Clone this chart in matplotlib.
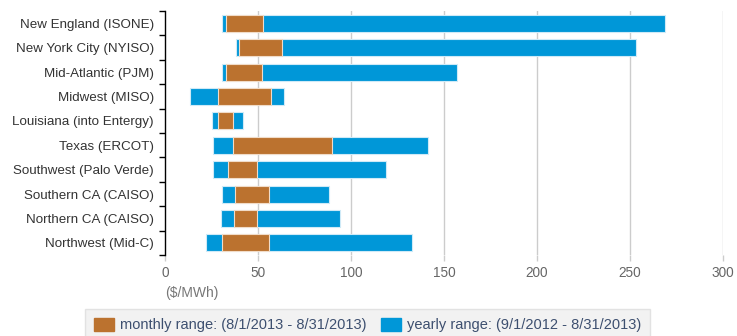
import matplotlib.pyplot as plt
import matplotlib.patches as mpatches
import numpy as np

plt.rcParams['font.family'] = ['Liberation Sans', 'DejaVu Sans']

# hub names, top to bottom
hubs = ["New England (ISONE)", "New York City (NYISO)", "Mid-Atlantic (PJM)",
        "Midwest (MISO)", "Louisiana (into Entergy)", "Texas (ERCOT)",
        "Southwest (Palo Verde)", "Southern CA (CAISO)", "Northern CA (CAISO)",
        "Northwest (Mid-C)"]

# yearly range ($/MWh), 9/1/2012 - 8/31/2013
year_lo = [30.5, 38, 30.5, 13.5, 25.5, 26, 26, 30.5, 30, 22]
year_hi = [269, 253, 157, 64, 42, 141.5, 119, 88, 94, 133]

# monthly range ($/MWh), 8/1/2013 - 8/31/2013
month_lo = [33, 40, 33, 28.5, 28.5, 36.5, 34, 37.5, 37, 30.5]
month_hi = [52.5, 63, 52, 57, 36.5, 90, 49.5, 56, 49.5, 56]

blue = "#0097d8"
brown = "#bb722f"

fig = plt.figure(figsize=(7.37, 3.36), dpi=100)
ax = fig.add_axes([0.2239, 0.241, 0.757, 0.726])

y = np.arange(len(hubs))
yw = np.array(year_hi) - np.array(year_lo)
mw = np.array(month_hi) - np.array(month_lo)
ax.barh(y, yw, left=year_lo, height=0.7, color=blue,
        edgecolor="#cfeaf7", linewidth=0.8, zorder=3)
ax.barh(y, mw, left=month_lo, height=0.7, color=brown,
        edgecolor="#f1dcc8", linewidth=0.8, zorder=4)

ax.set_xlim(0, 300)
ax.set_ylim(len(hubs) - 0.5, -0.5)

ax.set_yticks(y)
ax.set_yticklabels(hubs, fontsize=9.6, color="#333333")
ax.tick_params(axis="y", which="major", length=0, pad=8)
ax.set_yticks(np.arange(-0.5, len(hubs)), minor=True)
ax.tick_params(axis="y", which="minor", length=4, width=1, color="black")

ticks = [0, 50, 100, 150, 200, 250, 300]
ax.set_xticks(ticks)
ax.set_xticklabels([str(t) for t in ticks], fontsize=9.8, color="#666666")
ax.tick_params(axis="x", length=4, width=1, color="#cccccc", pad=4)
for t in ticks[1:]:
    ax.axvline(t, color="#cccccc", linewidth=1, zorder=1)

for side in ["top", "right", "bottom"]:
    ax.spines[side].set_visible(False)
ax.spines["left"].set_color("black")
ax.spines["left"].set_linewidth(1)

ax.text(0.0, -0.125, "($/MWh)", transform=ax.transAxes, fontsize=10,
        color="#777777", va="top", ha="left")

handles = [mpatches.Patch(color=brown, label="monthly range: (8/1/2013 - 8/31/2013)"),
           mpatches.Patch(color=blue, label="yearly range: (9/1/2012 - 8/31/2013)")]
leg = fig.legend(handles=handles, loc="upper center", bbox_to_anchor=(0.4987, 0.080),
                 ncol=2, frameon=True, fontsize=10.5, handlelength=1.4,
                 handleheight=1.0, columnspacing=1.0, handletextpad=0.4,
                 borderpad=0.6, borderaxespad=0, fancybox=False)
leg.get_frame().set_facecolor("#efefef")
leg.get_frame().set_edgecolor("#dddddd")
for txt in leg.get_texts():
    txt.set_color("#3d4f6f")

fig.savefig("out.png", dpi=100)
